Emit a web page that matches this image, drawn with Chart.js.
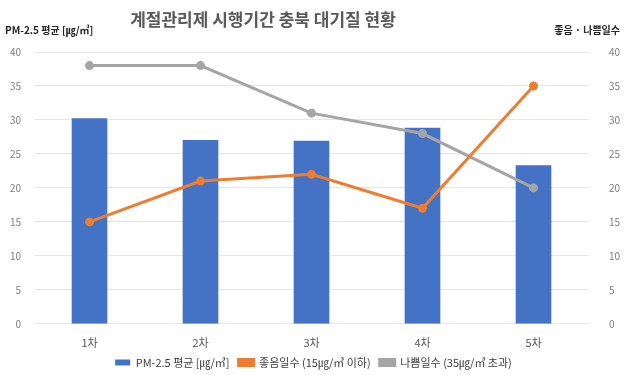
<!DOCTYPE html>
<html>
<head>
<meta charset="utf-8">
<script src="https://cdn.jsdelivr.net/npm/chart.js@4.4.1/dist/chart.umd.min.js"></script>
<style>
  html, body { margin: 0; padding: 0; background: #fff; }
  #wrap { width: 627px; height: 375px; }
</style>
</head>
<body>
<div id="wrap"><canvas id="js-chart-air"></canvas></div>
<script>
// Chart data
const rounds = ['1차', '2차', '3차', '4차', '5차'];
const pmAverage = [30.2, 27.0, 26.9, 28.8, 23.3];
const goodDays = [15, 21, 22, 17, 35];
const badDays = [38, 38, 31, 28, 20];
const yTicks = [0, 5, 10, 15, 20, 25, 30, 35, 40];

const fontFamily = "'Noto Sans CJK KR', 'Noto Sans', sans-serif";

// Title and axis captions drawn on top of the canvas
const captionPlugin = {
  id: 'captions',
  afterDraw(chart) {
    const ctx = chart.ctx;
    ctx.save();
    ctx.fillStyle = '#595959';
    ctx.font = 'bold 17px ' + fontFamily;
    ctx.textAlign = 'center';
    ctx.textBaseline = 'middle';
    ctx.fillText('계절관리제 시행기간 충북 대기질 현황', 263, 20);

    ctx.fillStyle = '#262626';
    ctx.font = 'bold 10px ' + fontFamily;
    ctx.textAlign = 'left';
    ctx.fillText('PM-2.5 평균 [㎍/㎥]', 5, 30);
    ctx.textAlign = 'right';
    ctx.fillText('좋음 · 나쁨일수', 620, 30);
    ctx.restore();
  }
};

// Make the legend box a bit shorter than Chart.js would by default,
// and nudge it up a little after layout
const legendFitPlugin = {
  id: 'legendFit',
  beforeInit(chart) {
    const origFit = chart.legend.fit;
    chart.legend.fit = function () {
      origFit.call(this);
      this.height -= 8;
    };
  },
  afterLayout(chart) {
    chart.legend.top -= 5;
    chart.legend.bottom -= 5;
  }
};

Chart.defaults.font.family = fontFamily;
Chart.defaults.color = '#7f7f7f';

let chartCon = document.getElementById('js-chart-air');

let chartData = {
  labels: rounds,
  datasets: [
    {
      type: 'bar',
      label: 'PM-2.5 평균 [㎍/㎥]',
      data: pmAverage,
      yAxisID: 'y',
      backgroundColor: '#4472c4',
      barThickness: 35,
      order: 3
    },
    {
      type: 'line',
      label: '좋음일수 (15㎍/㎥ 이하)',
      data: goodDays,
      yAxisID: 'y1',
      borderColor: '#ed7d31',
      backgroundColor: '#ed7d31',
      borderWidth: 3,
      pointRadius: 3,
      tension: 0,
      order: 1
    },
    {
      type: 'line',
      label: '나쁨일수 (35㎍/㎥ 초과)',
      data: badDays,
      yAxisID: 'y1',
      borderColor: '#a5a5a5',
      backgroundColor: '#a5a5a5',
      borderWidth: 3,
      pointRadius: 3,
      tension: 0,
      order: 2
    }
  ]
};

let chartOptions = {
  responsive: true,
  maintainAspectRatio: false,
  animation: false,
  layout: { padding: { top: 52, left: 0, right: 0, bottom: 0 } },
  scales: {
    x: {
      offset: true,
      grid: { display: false },
      border: { display: false },
      ticks: { font: { size: 11 }, color: '#595959', padding: 4 }
    },
    y: {
      position: 'left',
      min: 0,
      max: 40,
      afterBuildTicks(scale) { scale.ticks = yTicks.map(v => ({ value: v })); },
      afterFit(scale) { scale.width = 34; },
      grid: { color: '#e6e6e6', drawTicks: false },
      border: { display: false },
      ticks: { font: { size: 10 }, color: '#7f7f7f', padding: 13 }
    },
    y1: {
      position: 'right',
      min: 0,
      max: 40,
      afterBuildTicks(scale) { scale.ticks = yTicks.map(v => ({ value: v })); },
      afterFit(scale) { scale.width = 38; },
      grid: { display: false },
      border: { display: false },
      ticks: { font: { size: 10 }, color: '#7f7f7f', padding: 12 }
    }
  },
  plugins: {
    title: { display: false },
    tooltip: { enabled: false },
    legend: {
      position: 'bottom',
      labels: {
        color: '#404040',
        font: { size: 11 },
        boxWidth: 15,
        boxHeight: 6,
        padding: 9,
        sort: (a, b) => a.datasetIndex - b.datasetIndex
      }
    }
  }
};

new Chart(chartCon, { data: chartData, options: chartOptions, plugins: [captionPlugin, legendFitPlugin] });
</script>
</body>
</html>
